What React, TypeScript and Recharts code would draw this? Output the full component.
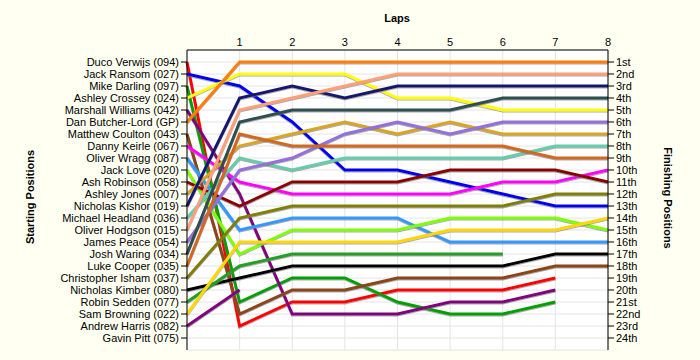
import { LineChart, Line, XAxis, YAxis, CartesianGrid } from "recharts";

// laps shown on the top axis (lap 0 = grid)
const laps = [0, 1, 2, 3, 4, 5, 6, 7, 8];
const lapTicks = [1, 2, 3, 4, 5, 6, 7, 8];
const positionTicks = [
  1, 2, 3, 4, 5, 6, 7, 8, 9, 10, 11, 12, 13, 14, 15, 16, 17, 18, 19, 20, 21, 22, 23, 24,
];

// drivers in starting order
const drivers = [
  "Duco Verwijs (094)",
  "Jack Ransom (027)",
  "Mike Darling (097)",
  "Ashley Crossey (024)",
  "Marshall Williams (042)",
  "Dan Butcher-Lord (GP)",
  "Matthew Coulton (043)",
  "Danny Keirle (067)",
  "Oliver Wragg (087)",
  "Jack Love (020)",
  "Ash Robinson (058)",
  "Ashley Jones (007)",
  "Nicholas Kishor (019)",
  "Michael Headland (036)",
  "Oliver Hodgson (015)",
  "James Peace (054)",
  "Josh Waring (034)",
  "Luke Cooper (035)",
  "Christopher Isham (037)",
  "Nicholas Kimber (080)",
  "Robin Sedden (077)",
  "Sam Browning (022)",
  "Andrew Harris (082)",
  "Gavin Pitt (075)",
];

const driverColors = [
  "#ff0000",
  "#0000ee",
  "#00a000",
  "#ffff00",
  "#800080",
  "#ff8000",
  "#8b4513",
  "#ff00ff",
  "#3399ff",
  "#80ff00",
  "#8b0000",
  "#daa520",
  "#191970",
  "#66cdaa",
  "#ffa07a",
  "#9370db",
  "#2f4f4f",
  "#d2691e",
  "#808000",
  "#000000",
  "#22a022",
  "#ffd700",
  "#800080",
  "#999999",
];

// position of each driver after each lap (null = retired)
const positions: (number | null)[][] = [
  [1, 23, 21, 21, 20, 20, 20, 19, null],
  [2, 3, 6, 10, 10, 11, 12, 13, 13],
  [3, 21, 19, 19, 21, 22, 22, 21, null],
  [4, 2, 2, 2, 4, 4, 5, 5, 5],
  [5, 12, 22, 22, 22, 21, 21, 20, null],
  [6, 1, 1, 1, 1, 1, 1, 1, 1],
  [7, 22, 20, 20, 19, 19, 19, 18, 18],
  [8, 11, 12, 12, 12, 12, 11, 11, 10],
  [9, 15, 14, 14, 14, 16, 16, 16, 16],
  [10, 17, 15, 15, 15, 14, 14, 14, 15],
  [11, 13, 11, 11, 11, 10, 10, 10, 11],
  [12, 8, 7, 6, 7, 6, 7, 7, 7],
  [13, 4, 3, 4, 3, 3, 3, 3, 3],
  [14, 9, 10, 9, 9, 9, 9, 8, 8],
  [15, 5, 4, 3, 2, 2, 2, 2, 2],
  [16, 10, 9, 7, 6, 7, 6, 6, 6],
  [17, 6, 5, 5, 5, 5, 4, 4, 4],
  [18, 7, 8, 8, 8, 8, 8, 9, 9],
  [19, 14, 13, 13, 13, 13, 13, 12, 12],
  [20, 19, 18, 18, 18, 18, 18, 17, 17],
  [21, 18, 17, 17, 17, 17, 17, null, null],
  [22, 16, 16, 16, 16, 15, 15, 15, 14],
  [23, 20, null, null, null, null, null, null, null],
  [],
];

const finishLabels = [
  "1st", "2nd", "3rd", "4th", "5th", "6th", "7th", "8th", "9th", "10th", "11th", "12th",
  "13th", "14th", "15th", "16th", "17th", "18th", "19th", "20th", "21st", "22nd", "23rd", "24th",
];

const data = laps.map((lap, i) => {
  const row: Record<string, number | null> = { lap };
  drivers.forEach((d, j) => {
    const v = positions[j][i];
    row[d] = v === undefined ? null : v;
  });
  return row;
});

const font = '"Liberation Sans", Arial, sans-serif';
const tickStyle = { fontSize: 11, fill: "#000", fontFamily: font };
const titleStyle: React.CSSProperties = {
  position: "absolute",
  fontFamily: font,
  fontSize: 11,
  fontWeight: "bold",
  whiteSpace: "nowrap",
  color: "#000",
};

export default function App() {
  return (
    <div style={{ position: "relative", width: 700, height: 360, background: "#fffff2" }}>
      <style>{"body{margin:0}"}</style>
      <svg width="0" height="0" style={{ position: "absolute" }}>
        <defs>
          <filter id="lineShadow" filterUnits="userSpaceOnUse" x="0" y="0" width="700" height="360">
            <feDropShadow dx="0" dy="1" stdDeviation="0" floodColor="#707070" floodOpacity="0.6" />
          </filter>
        </defs>
      </svg>
      <LineChart
        width={700}
        height={360}
        data={data}
        margin={{ top: 0, right: 0, bottom: 10, left: 0 }}
      >
        <CartesianGrid stroke="#e4e4e4" fill="#ffffff" yAxisId="left" />
        <XAxis
          dataKey="lap"
          type="number"
          orientation="top"
          domain={[0, 8]}
          ticks={lapTicks}
          height={50}
          tickLine={false}
          tickSize={0}
          tickMargin={4}
          interval={0}
          axisLine={{ stroke: "#000" }}
          tick={tickStyle}
        />
        <YAxis
          yAxisId="left"
          type="number"
          domain={[0, 25]}
          reversed
          ticks={positionTicks}
          interval={0}
          width={187}
          tickSize={6}
          tickMargin={2}
          axisLine={{ stroke: "#000" }}
          tickLine={{ stroke: "#000" }}
          tick={tickStyle}
          tickFormatter={(v: number) => drivers[v - 1] ?? ""}
        />
        <YAxis
          yAxisId="right"
          orientation="right"
          type="number"
          domain={[0, 25]}
          reversed
          ticks={positionTicks}
          interval={0}
          width={92}
          tickSize={6}
          tickMargin={2}
          axisLine={{ stroke: "#000" }}
          tickLine={{ stroke: "#000" }}
          tick={tickStyle}
          tickFormatter={(v: number) => finishLabels[v - 1] ?? ""}
        />
        {drivers.map((d, j) =>
          positions[j].length === 0 ? null : (
            <Line
              key={d}
              yAxisId={j === 5 ? "right" : "left"}
              dataKey={d}
              type="linear"
              stroke={driverColors[j]}
              strokeWidth={3}
              dot={false}
              activeDot={false}
              connectNulls={false}
              isAnimationActive={false}
              filter="url(#lineShadow)"
            />
          )
        )}
      </LineChart>
      <div style={{ ...titleStyle, left: 397, top: 18, transform: "translate(-50%, -50%)" }}>Laps</div>
      <div
        style={{ ...titleStyle, left: 30, top: 197, transform: "translate(-50%, -50%) rotate(-90deg)" }}
      >
        Starting Positions
      </div>
      <div
        style={{ ...titleStyle, left: 668, top: 198, transform: "translate(-50%, -50%) rotate(90deg)" }}
      >
        Finishing Positions
      </div>
    </div>
  );
}
